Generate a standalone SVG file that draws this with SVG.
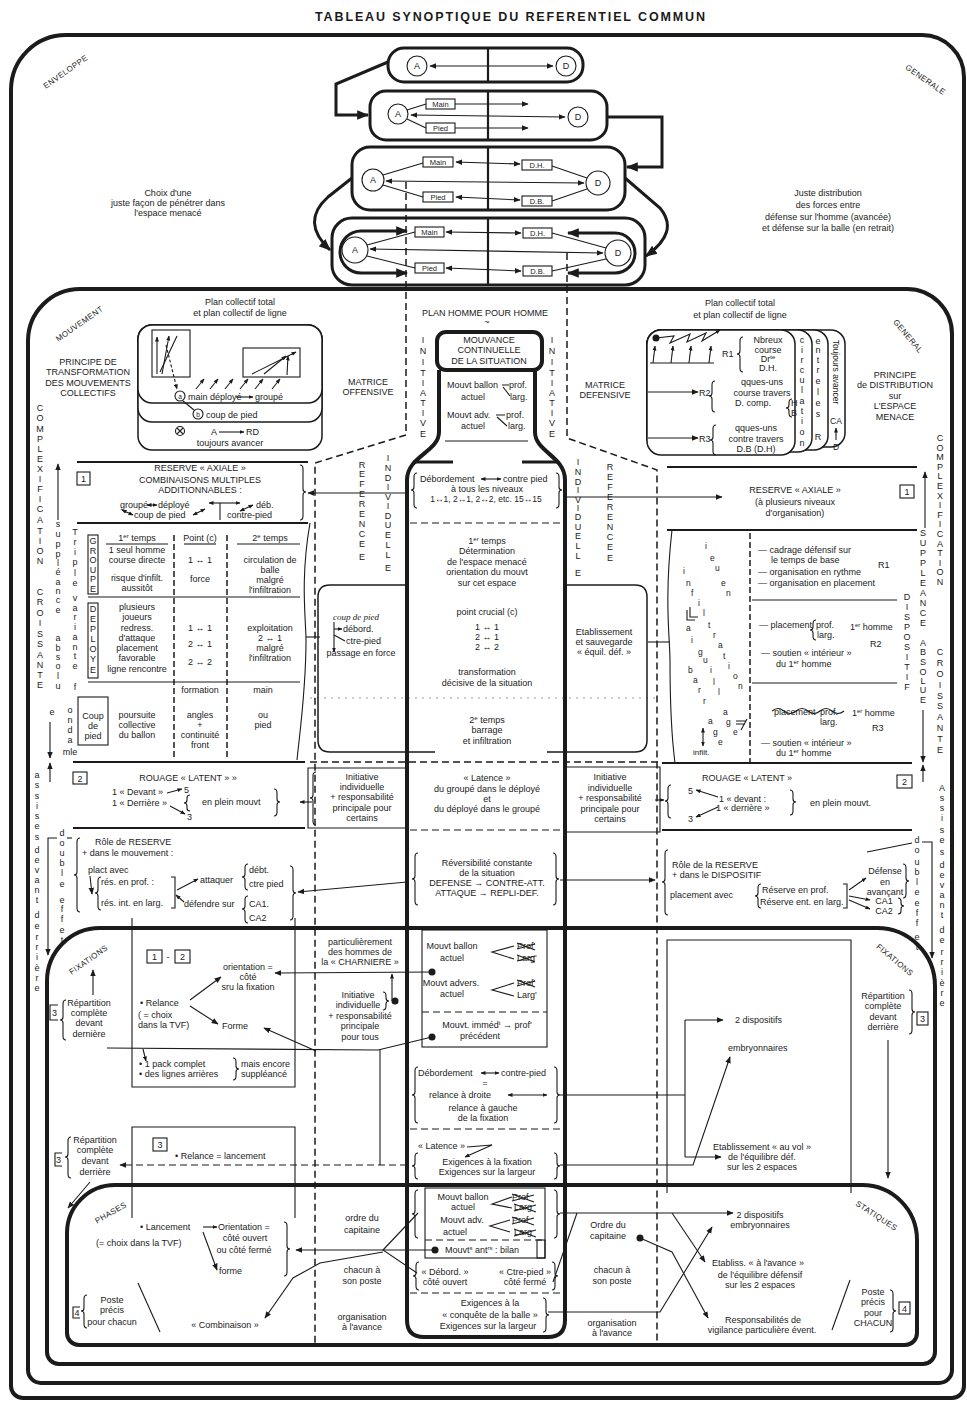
<svg xmlns="http://www.w3.org/2000/svg" width="967" height="1402" viewBox="0 0 967 1402">
<defs>
<marker id="a" markerUnits="userSpaceOnUse" markerWidth="7" markerHeight="7" viewBox="0 0 10 10" refX="9" refY="5" orient="auto-start-reverse"><path d="M0,1 L10,5 L0,9 Z" fill="#1b1b1b"/></marker>
<marker id="s" markerUnits="userSpaceOnUse" markerWidth="5" markerHeight="5" viewBox="0 0 10 10" refX="9" refY="5" orient="auto-start-reverse"><path d="M0,1 L10,5 L0,9 Z" fill="#1b1b1b"/></marker>
<marker id="A" markerUnits="userSpaceOnUse" markerWidth="12" markerHeight="12" viewBox="0 0 10 10" refX="9" refY="5" orient="auto-start-reverse"><path d="M0,1 L10,5 L0,9 Z" fill="#1b1b1b"/></marker>
</defs>
<style>
text{font-family:"Liberation Sans",Arial,Helvetica,sans-serif;font-size:9px;fill:#1b1b1b}
.c{text-anchor:middle}
.s{font-size:7.5px}
.s8{font-size:8px}
.s85{font-size:8.5px}
.tiny{font-size:6.5px}
.v{font-size:9px;text-anchor:middle}
.lab{font-size:8px;letter-spacing:.4px;text-anchor:middle}
.title{font-size:12.5px;font-weight:bold;text-anchor:start}
.hw{font-family:"Liberation Serif",serif;font-style:italic}
.fr{fill:none;stroke:#1b1b1b;stroke-width:4}
.k{fill:none;stroke:#1b1b1b;stroke-width:3}
.m{fill:none;stroke:#1b1b1b;stroke-width:2.2}
.n2{fill:none;stroke:#1b1b1b;stroke-width:1.5}
.n{fill:none;stroke:#1b1b1b;stroke-width:1.1}
.d{stroke-dasharray:7 4}
.wf{fill:#fff}
.dot{fill:#1b1b1b}
</style>
<rect width="967" height="1402" fill="#fff"/>
<text class="title" x="315" y="21" textLength="390" lengthAdjust="spacing">TABLEAU SYNOPTIQUE  DU REFERENTIEL COMMUN</text>

<g id="frames">
<path class="fr" d="M66,35 H922 A42,42 0 0 1 964,77 V1386 A12,12 0 0 1 952,1398 H23 A12,12 0 0 1 11,1386 V90 A55,55 0 0 1 66,35 Z"/>
<path class="fr" d="M80,289 H907 A45,45 0 0 1 952,334 V1370 A13,13 0 0 1 939,1383 H41 A13,13 0 0 1 28,1370 V341 A52,52 0 0 1 80,289 Z"/>
<path class="fr" d="M100,928 H877 A58,58 0 0 1 935,986 V1352 A12,12 0 0 1 923,1364 H59 A12,12 0 0 1 47,1352 V981 A53,53 0 0 1 100,928 Z"/>
<path class="fr" d="M115,1185 H862 A55,55 0 0 1 917,1240 V1333 A12,12 0 0 1 905,1345 H79 A12,12 0 0 1 67,1333 V1233 A48,48 0 0 1 115,1185 Z"/>
<text class="lab" transform="translate(67,74) rotate(-35)">ENVELOPPE</text>
<text class="lab" transform="translate(924,82) rotate(35)">GENERALE</text>
<text class="lab" transform="translate(81,326) rotate(-35)">MOUVEMENT</text>
<text class="lab" transform="translate(906,338) rotate(50)">GENERAL</text>
<text class="lab" transform="translate(90,962) rotate(-35)">FIXATIONS</text>
<text class="lab" transform="translate(893,962) rotate(40)">FIXATIONS</text>
<text class="lab" transform="translate(112,1215) rotate(-30)">PHASES</text>
<text class="lab" transform="translate(875,1218) rotate(33)">STATIQUES</text>
</g>

<g id="envelope-text">
<text class="c" x="168" y="196">Choix d'une</text>
<text class="c" x="168" y="206">juste façon de pénétrer dans</text>
<text class="c" x="168" y="216">l'espace menacé</text>
<text class="c" x="828" y="196">Juste distribution</text>
<text class="c" x="828" y="208">des forces entre</text>
<text class="c" x="828" y="220">défense sur l'homme (avancée)</text>
<text class="c" x="828" y="231">et défense sur la balle (en retrait)</text>
</g>

<g id="box1">
<rect class="k" x="388" y="48" width="195" height="34" rx="16"/>
<line class="m" x1="488" y1="48" x2="488" y2="82"/>
<circle class="n" cx="417" cy="66" r="10"/><text class="c" x="417" y="69">A</text>
<circle class="n" cx="566" cy="66" r="10"/><text class="c" x="566" y="69">D</text>
<line class="n" x1="430" y1="66" x2="553" y2="66" marker-start="url(#a)" marker-end="url(#a)"/>
</g>
<g id="box2">
<rect class="k" x="370" y="91" width="237" height="49" rx="16"/>
<line class="m" x1="488" y1="91" x2="488" y2="140"/>
<circle class="n" cx="398" cy="114" r="10"/><text class="c" x="398" y="117">A</text>
<circle class="n" cx="578" cy="117" r="10"/><text class="c" x="578" y="120">D</text>
<rect class="n" x="426" y="99" width="29" height="10"/><text class="c s" x="440.5" y="107">Main</text>
<rect class="n" x="426" y="123" width="29" height="10"/><text class="c s" x="440.5" y="131">Pied</text>
<line class="n" x1="407" y1="110" x2="426" y2="104"/><line class="n" x1="407" y1="119" x2="426" y2="128"/>
<line class="n" x1="455" y1="104" x2="528" y2="104" marker-end="url(#a)"/>
<line class="n" x1="455" y1="128" x2="528" y2="128" marker-end="url(#a)"/>
<line class="n" x1="411" y1="115" x2="565" y2="117" marker-start="url(#a)" marker-end="url(#a)"/>
</g>
<g id="box3">
<rect class="k" x="352" y="147" width="273" height="63" rx="18"/>
<line class="m" x1="488" y1="147" x2="488" y2="210"/>
<circle class="n" cx="373" cy="180" r="11"/><text class="c" x="373" y="183">A</text>
<circle class="n" cx="598" cy="183" r="12"/><text class="c" x="598" y="186">D</text>
<rect class="n" x="423" y="157" width="30" height="10"/><text class="c s" x="438" y="165">Main</text>
<rect class="n" x="522" y="160" width="30" height="10"/><text class="c s" x="537" y="168">D.H.</text>
<rect class="n" x="423" y="192" width="30" height="10"/><text class="c s" x="438" y="200">Pied</text>
<rect class="n" x="522" y="196" width="30" height="10"/><text class="c s" x="537" y="204">D.B.</text>
<line class="n" x1="383" y1="175" x2="423" y2="163"/><line class="n" x1="383" y1="185" x2="423" y2="197"/>
<line class="n" x1="587" y1="178" x2="552" y2="166"/><line class="n" x1="587" y1="189" x2="552" y2="201"/>
<line class="n" x1="456" y1="162" x2="520" y2="164" marker-start="url(#a)" marker-end="url(#a)"/>
<line class="n" x1="456" y1="197" x2="520" y2="200" marker-start="url(#a)" marker-end="url(#a)"/>
<line class="n" x1="386" y1="181" x2="584" y2="183" marker-start="url(#a)" marker-end="url(#a)"/>
</g>
<g id="box4">
<rect class="k" x="332" y="218" width="313" height="67" rx="20"/>
<line class="m" x1="488" y1="218" x2="488" y2="285"/>
<circle class="n" cx="355" cy="250" r="13"/><text class="c" x="355" y="253">A</text>
<circle class="n" cx="618" cy="253" r="13"/><text class="c" x="618" y="256">D</text>
<rect class="n" x="415" y="227" width="29" height="10"/><text class="c s" x="429.5" y="235">Main</text>
<rect class="n" x="523" y="228" width="29" height="10"/><text class="c s" x="537.5" y="236">D.H.</text>
<rect class="n" x="415" y="263" width="29" height="10"/><text class="c s" x="429.5" y="271">Pied</text>
<rect class="n" x="523" y="266" width="29" height="10"/><text class="c s" x="537.5" y="274">D.B.</text>
<line class="n" x1="367" y1="245" x2="415" y2="232"/><line class="n" x1="367" y1="256" x2="415" y2="268"/>
<line class="n" x1="606" y1="248" x2="552" y2="233"/><line class="n" x1="606" y1="259" x2="552" y2="271"/>
<line class="n" x1="446" y1="232" x2="521" y2="233" marker-start="url(#a)" marker-end="url(#a)"/>
<line class="n" x1="446" y1="268" x2="521" y2="271" marker-start="url(#a)" marker-end="url(#a)"/>
<line class="n" x1="370" y1="249" x2="603" y2="253" marker-start="url(#a)" marker-end="url(#a)"/>
<path class="k" d="M407,231 H361 A21,21 0 0 0 361,273 H407" marker-start="url(#A)" marker-end="url(#A)"/>
<path class="k" d="M568,233 H615 A20,20 0 0 1 615,273 H568" marker-start="url(#A)" marker-end="url(#A)"/>
</g>

<g id="connectors">
<path class="k" d="M388,62 L336,84 V115 H368" marker-end="url(#A)"/>
<path class="k" d="M607,117 H662 V167 H627" marker-end="url(#A)"/>
<path class="k" d="M352,178 L328,197 Q300,222 330,250" marker-end="url(#A)"/>
<path class="k" d="M625,178 L660,208 Q680,232 646,256" marker-end="url(#A)"/>
<path class="n2 d" d="M406,182 V435 L315,463 V1345"/>
<path class="n2 d" d="M567,253 V438 L657,470 V1347"/>
<line class="n2 d" x1="310" y1="762" x2="660" y2="762"/>
<line x1="310" y1="698" x2="660" y2="698" stroke="#999" stroke-width="1" stroke-dasharray="2 5"/>
<line class="n" x1="405" y1="493" x2="308" y2="493" marker-end="url(#a)"/>
<line class="n" x1="565" y1="497" x2="722" y2="497" marker-end="url(#a)"/>
<line class="n" x1="312" y1="802" x2="300" y2="802" marker-end="url(#s)"/>
<line class="n" x1="655" y1="800" x2="664" y2="800" marker-end="url(#s)"/>
<line class="n" x1="407" y1="882" x2="298" y2="892" marker-end="url(#a)"/>
<line class="n" x1="560" y1="880" x2="655" y2="880" marker-end="url(#a)"/>
<line class="n" x1="432" y1="972" x2="275" y2="973" marker-end="url(#a)"/>
<line class="n" x1="392" y1="1001" x2="392" y2="974" marker-end="url(#s)"/>
<polyline class="n" points="432,1037 378,1050 107,1048"/>
<line class="n" x1="380" y1="1050" x2="380" y2="1165"/>
<line class="n" x1="316" y1="1051" x2="264" y2="1028" marker-end="url(#a)"/>
<line class="n" x1="143" y1="1049" x2="146" y2="1061" marker-end="url(#s)"/>
<line class="n" x1="190" y1="1000" x2="221" y2="977" marker-end="url(#a)"/>
<line class="n" x1="190" y1="1006" x2="218" y2="1024" marker-end="url(#a)"/>
<line class="n d" x1="407" y1="1165" x2="120" y2="1165" marker-end="url(#a)"/>
<line class="n" x1="560" y1="1095" x2="685" y2="1095"/>
<line class="n" x1="685" y1="1020" x2="685" y2="1157"/>
<line class="n" x1="685" y1="1020" x2="723" y2="1020" marker-end="url(#a)"/>
<line class="n" x1="685" y1="1157" x2="721" y2="1157" marker-end="url(#a)"/>
<polyline class="n" points="560,1165 693,1165 730,1057" marker-end="url(#a)"/>
<line class="n" x1="888" y1="1040" x2="888" y2="1178" marker-end="url(#a)"/>
<line class="n" x1="93" y1="995" x2="93" y2="970" marker-end="url(#a)"/>
<line class="n" x1="90" y1="1182" x2="68" y2="1208" marker-end="url(#a)"/>
<line class="n" x1="435" y1="1250" x2="296" y2="1250" marker-end="url(#a)"/>
<polyline class="n" points="418,1213 383,1250 417,1273"/>
<polyline class="n" points="383,1252 320,1263 293,1278 265,1318" marker-end="url(#a)"/>
<line class="n" x1="203" y1="1227" x2="217" y2="1227" marker-end="url(#s)"/>
<line class="n" x1="203" y1="1232" x2="217" y2="1270" marker-end="url(#a)"/>
<line class="n" x1="560" y1="1213" x2="733" y2="1213" marker-end="url(#a)"/>
<line class="n" x1="577" y1="1213" x2="553" y2="1282"/>
<polyline class="n" points="548,1312 660,1312 712,1227" marker-end="url(#a)"/>
<line class="n" x1="672" y1="1213" x2="705" y2="1262" marker-end="url(#a)"/>
<polyline class="n" points="640,1238 672,1252 708,1318" marker-end="url(#a)"/>
<line class="n" x1="138" y1="1283" x2="160" y2="1332"/>
<line class="n" x1="850" y1="1280" x2="832" y2="1330"/>
<circle class="dot" cx="432" cy="972" r="3.5"/>
<circle class="dot" cx="432" cy="1037" r="3.5"/>
<circle class="dot" cx="395" cy="1001" r="3.5"/>
<circle class="dot" cx="435" cy="1250" r="3.5"/>
<circle class="dot" cx="640" cy="1238" r="3.5"/>
</g>

<g id="bottle">
<path class="fr" d="M439,370 V432 C439,452 407,456 407,480 V1320 Q407,1337 424,1337 H548 Q565,1337 565,1320 V480 C565,456 535,452 535,432 V370"/>
<rect class="fr wf" x="437" y="332" width="105" height="38" rx="9"/>
<text class="c" x="489" y="343">MOUVANCE</text>
<text class="c" x="489" y="353">CONTINUELLE</text>
<text class="c" x="489" y="364">DE LA SITUATION</text>
<text class="c" x="485" y="316">PLAN HOMME POUR HOMME</text>
<text class="c" x="487" y="325">~</text>
<text x="447" y="388">Mouvt ballon</text><text x="509" y="388">prof.</text>
<text class="c" x="473" y="400">actuel</text><text x="510" y="400">larg.</text>
<path class="n" d="M502,385 H509 M503,387 L510,396"/>
<text x="447" y="418">Mouvt adv.</text><text x="506" y="418">prof.</text>
<text class="c" x="473" y="429">actuel</text><text x="508" y="429">larg.</text>
<path class="n" d="M496,415 H505 M497,417 L507,426"/>
<line class="n" x1="445" y1="441" x2="528" y2="441"/>
<path class="k" d="M413,462 H453 M522,462 H557"/>
<path class="n" d="M417,473 Q414,473 414,477 V487 Q414,490 411,490 Q414,490 414,493 V504 Q414,508 417,508"/>
<path class="n" d="M556,473 Q559,473 559,477 V487 Q559,490 562,490 Q559,490 559,493 V504 Q559,508 556,508"/>
<text x="420" y="482">Débordement</text><line class="n" x1="481" y1="479" x2="501" y2="479" marker-start="url(#s)" marker-end="url(#s)"/><text x="503" y="482">contre pied</text>
<text class="c" x="487" y="492">à tous les niveaux</text>
<text class="c s85" x="486" y="502">1↔1, 2↔1, 2↔2, etc. 15↔15</text>
<line class="n d" x1="410" y1="523" x2="563" y2="523"/>
<text class="c" x="487" y="544">1<tspan font-size="6" dy="-3">er</tspan><tspan dy="3"> temps</tspan></text>
<text class="c" x="487" y="554">Détermination</text>
<text class="c" x="487" y="565">de l'espace menacé</text>
<text class="c" x="487" y="575">orientation du mouvt</text>
<text class="c" x="487" y="586">sur cet espace</text>
<text class="c" x="487" y="615">point crucial (c)</text>
<text class="c" x="487" y="630">1 ↔ 1</text>
<text class="c" x="487" y="640">2 ↔ 1</text>
<text class="c" x="487" y="650">2 ↔ 2</text>
<text class="c" x="487" y="675">transformation</text>
<text class="c" x="487" y="686">décisive de la situation</text>
<text class="c" x="487" y="723">2<tspan font-size="6" dy="-3">e</tspan><tspan dy="3"> temps</tspan></text>
<text class="c" x="487" y="733">barrage</text>
<text class="c" x="487" y="744">et infiltration</text>
<text class="c" x="487" y="781">« Latence »</text>
<text class="c" x="487" y="792">du groupé dans le déployé</text>
<text class="c" x="487" y="802">et</text>
<text class="c" x="487" y="812">du déployé dans le groupé</text>
<line class="n d" x1="410" y1="830" x2="565" y2="830"/>
<path class="n" d="M418,853 Q415,853 415,857 V876 Q415,879 412,879 Q415,879 415,882 V901 Q415,905 418,905"/>
<path class="n" d="M553,853 Q556,853 556,857 V876 Q556,879 559,879 Q556,879 556,882 V901 Q556,905 553,905"/>
<text class="c" x="487" y="866">Réversibilité constante</text>
<text class="c" x="487" y="876">de la situation</text>
<text class="c" x="487" y="886">DEFENSE → CONTRE-ATT.</text>
<text class="c" x="487" y="896">ATTAQUE → REPLI-DEF.</text>
<rect class="n" x="422" y="930" width="125" height="117"/>
<text class="c" x="452" y="949">Mouvt ballon</text>
<text class="c" x="452" y="961">actuel</text>
<path class="n" d="M514,946 L492,952 L514,959"/>
<text x="517" y="949">Prof'</text><text x="517" y="961">Larg'</text>
<path class="n" d="M517,943 L535,950 M517,949 L535,944 M517,955 L535,962 M517,961 L535,956"/>
<text class="c" x="451" y="986">Mouvt advers.</text>
<text class="c" x="452" y="997">actuel</text>
<path class="n" d="M514,983 L492,990 L514,996"/>
<text x="517" y="986">Prof'</text><text x="517" y="998">Larg'</text>
<path class="n" d="M517,980 L535,987 M517,986 L535,981"/>
<line class="n d" x1="422" y1="1012" x2="547" y2="1012"/>
<text class="c" x="487" y="1028">Mouvt. imméd<tspan font-size="6" dy="-3">t</tspan><tspan dy="3"> → prof'</tspan></text>
<text class="c" x="480" y="1039">précédent</text>
<path class="n" d="M418,1067 Q415,1067 415,1071 V1092 Q415,1095 412,1095 Q415,1095 415,1098 V1119 Q415,1123 418,1123"/>
<path class="n" d="M554,1067 Q557,1067 557,1071 V1092 Q557,1095 560,1095 Q557,1095 557,1098 V1119 Q557,1123 554,1123"/>
<text x="418" y="1076">Débordement</text><line class="n" x1="481" y1="1073" x2="499" y2="1073" marker-start="url(#s)" marker-end="url(#s)"/><text x="501" y="1076">contre-pied</text>
<text class="c" x="485" y="1086">=</text>
<text x="429" y="1098">relance à droite</text><line class="n" x1="508" y1="1095" x2="547" y2="1095" marker-start="url(#s)" marker-end="url(#s)"/>
<text class="c" x="483" y="1111">relance à gauche</text>
<text class="c" x="483" y="1121">de la fixation</text>
<line class="n d" x1="410" y1="1129" x2="565" y2="1129"/>
<text x="418" y="1149">« Latence »</text>
<polyline class="n" points="467,1147 492,1145 465,1157" marker-end="url(#s)"/>
<path class="n" d="M418,1153 Q415,1153 415,1157 V1163 Q415,1166 412,1166 Q415,1166 415,1169 V1175 Q415,1179 418,1179"/>
<path class="n" d="M554,1153 Q557,1153 557,1157 V1163 Q557,1166 560,1166 Q557,1166 557,1169 V1175 Q557,1179 554,1179"/>
<text class="c" x="487" y="1165">Exigences à la fixation</text>
<text class="c" x="487" y="1175">Exigences sur la largeur</text>
<rect class="n" x="425" y="1188" width="120" height="70"/>
<path class="n" d="M418,1190 Q415,1190 415,1194 V1211 Q415,1214 412,1214 Q415,1214 415,1217 V1234 Q415,1238 418,1238"/>
<path class="n" d="M554,1190 Q557,1190 557,1194 V1211 Q557,1214 560,1214 Q557,1214 557,1217 V1234 Q557,1238 554,1238"/>
<text class="c" x="463" y="1200">Mouvt ballon</text>
<text class="c" x="463" y="1210">actuel</text>
<text class="c" x="462" y="1223">Mouvt adv.</text>
<text class="c" x="455" y="1235">actuel</text>
<path class="n" d="M512,1197 L492,1204 L512,1208 M510,1220 L490,1226 L510,1232"/>
<text x="512" y="1200">Prof</text><text x="514" y="1210">Larg</text><text x="512" y="1223">Prof</text><text x="514" y="1235">Larg</text>
<path class="n" d="M512,1194 L534,1202 M512,1201 L534,1195 M514,1204 L536,1212 M514,1211 L536,1205 M512,1217 L534,1225 M512,1224 L534,1218 M514,1229 L536,1237 M514,1236 L536,1230"/>
<line class="n d" x1="425" y1="1240" x2="545" y2="1240"/>
<text x="445" y="1253">Mouvt<tspan font-size="6" dy="-3">s</tspan><tspan dy="3"> ant</tspan><tspan font-size="6" dy="-3">rs</tspan><tspan dy="3"> : bilan</tspan></text>
<rect class="n" x="537" y="1240" width="8" height="18"/>
<path class="n" d="M419,1262 Q416,1262 416,1266 V1273 Q416,1276 413,1276 Q416,1276 416,1279 V1286 Q416,1290 419,1290"/>
<path class="n" d="M552,1262 Q555,1262 555,1266 V1273 Q555,1276 558,1276 Q555,1276 555,1279 V1286 Q555,1290 552,1290"/>
<text class="c" x="445" y="1275">« Débord. »</text>
<text class="c" x="445" y="1285">côté ouvert</text>
<text class="c" x="525" y="1275">« Ctre-pied »</text>
<text class="c" x="525" y="1285">côté fermé</text>
<line class="n d" x1="410" y1="1293" x2="565" y2="1293"/>
<path class="n" d="M543,1298 Q546,1298 546,1302 V1312 Q546,1315 549,1315 Q546,1315 546,1318 V1328 Q546,1332 543,1332"/>
<text class="c" x="490" y="1306">Exigences à la</text>
<text class="c" x="490" y="1318">« conquête de la balle »</text>
<text class="c" x="488" y="1329">Exigences sur la largeur</text>
</g>

<g id="vertical-labels">
<text class="v" x="423 423 423 423 423 423 423 423 423 423" y="343 354 365 376 386 396 406 416 426 437">INITIATIVE</text>
<text class="v" x="552 552 552 552 552 552 552 552 552 552" y="343 354 365 376 386 396 406 416 426 437">INITIATIVE</text>
<text class="v" x="362 362 362 362 362 362 362 362 362 362" y="468 477 487 497 507 517 527 537 547 560">REFERENCEE</text>
<text class="v" x="388 388 388 388 388 388 388 388 388 388 388 388" y="461 471 481 490 500 509 519 528 538 548 558 571">INDIVIDUELLE</text>
<text class="v" x="578 578 578 578 578 578 578 578 578 578 578 578" y="465 475 485 493 503 511 520 530 539 549 559 576">INDIVIDUELLE</text>
<text class="v" x="610 610 610 610 610 610 610 610 610 610" y="470 480 490 500 510 520 530 540 550 561">REFERENCEE</text>
<text class="v" x="40 40 40 40 40 40 40 40 40 40 40 40 40 40 40 40" y="411 421 432 442 452 462 472 482 492 502 512 523 534 544 554 564">COMPLEXIFICATION</text>
<text class="v" x="40 40 40 40 40 40 40 40 40 40" y="595 605 616 626 637 647 658 668 678 688">CROISSANTE</text>
<text class="v" x="58 58 58 58 58 58 58 58 58 58 58 58 58 58 58 58 52" y="527 537 547 557 566 575 585 594 603 613 641 651 660 669 679 689 715">suppléanceabsolue</text>
<text class="v" x="75 75 75 75 75 75 75 75 75 75 75 75 75 75 75" y="535 545 555 565 576 586 601 611 620 630 640 650 659 669 690">Triplevariantef</text>
<text class="v" x="70 70 70 70" y="713 723 733 743">onda</text>
<text class="c" x="70" y="755">mle</text>
<text class="v" x="37 37 37 37 37 37 37 37 37 37 37 37 37 37 37 37 37 37 37 37 37" y="778 788 799 809 819 829 840 853 863 873 883 893 903 918 929 940 950 960 971 981 991">assisesdevantderrière</text>
<text class="v" x="62 62 62 62 62 62 62 62 62 62 62" y="836 846 856 866 876 887 903 912 922 933 943">doubleeffet</text>
<text class="v" x="940 940 940 940 940 940 940 940 940 940 940 940 940 940 940 940" y="441 451 460 470 479 489 499 508 518 527 537 547 556 566 575 585">COMPLEXIFICATION</text>
<text class="v" x="940 940 940 940 940 940 940 940 940 940" y="655 666 677 688 699 709 720 731 742 753">CROISSANTE</text>
<text class="v" x="923 923 923 923 923 923 923 923 923 923 923 923 923 923 923 923 923" y="536 546 556 566 576 586 596 606 616 626 646 655 665 675 684 693 703">SUPPLEANCEABSOLUE</text>
<text class="v" x="907 907 907 907 907 907 907 907 907 907" y="600 610 620 630 640 650 660 670 680 690">DISPOSITIF</text>
<text class="v" x="942 942 942 942 942 942 942 942 942 942 942 942 942 942 942 942 942 942 942 942 942" y="791 801 811 821 833 843 855 868 878 888 898 908 918 933 943 955 965 975 986 996 1006">Assisesdevantderrière</text>
<text class="v" x="917 917 917 917 917 917 917 917 917 917 917" y="843 853 865 875 885 895 906 916 926 940 950">doubleeffet</text>
<line class="n" x1="58" y1="520" x2="58" y2="464" marker-end="url(#a)"/>
<line class="n" x1="50" y1="722" x2="50" y2="758" marker-end="url(#a)"/>
<line class="n" x1="50" y1="782" x2="50" y2="763" marker-end="url(#a)"/>
<path class="n" d="M57,838 H48 V955" marker-end="url(#a)"/><line class="n" x1="67" y1="838" x2="72" y2="838"/>
<line class="n" x1="925" y1="528" x2="925" y2="472" marker-end="url(#a)"/>
<line class="n" x1="923" y1="710" x2="923" y2="762" marker-end="url(#a)"/>
<line class="n" x1="923" y1="782" x2="923" y2="765" marker-end="url(#a)"/>
<path class="n" d="M922,842 H932 V958" marker-end="url(#a)"/>
<line class="n" x1="867" y1="852" x2="912" y2="843"/>
</g>

<g id="plan-left">
<text class="c" x="240" y="305">Plan collectif total</text>
<text class="c" x="240" y="316">et plan collectif de ligne</text>
<rect class="n2 wf" x="138" y="325" width="184" height="125" rx="14"/>
<rect class="n2 wf" x="138" y="325" width="184" height="97" rx="14"/>
<rect class="n2 wf" x="138" y="325" width="184" height="78" rx="14"/>
<rect class="n" x="152" y="330" width="38" height="47"/>
<rect class="n" x="243" y="348" width="57" height="29"/>
<line class="n" x1="157" y1="374" x2="157" y2="337" marker-end="url(#s)"/>
<line class="n" x1="162" y1="374" x2="169" y2="336" marker-end="url(#s)"/>
<line class="n" x1="177" y1="336" x2="160" y2="372"/>
<line class="n" x1="166" y1="345" x2="177" y2="389" stroke-dasharray="3 2" marker-end="url(#s)"/>
<line class="n" x1="252" y1="374" x2="296" y2="352" marker-end="url(#s)"/>
<line class="n" x1="264" y1="374" x2="286" y2="356" marker-end="url(#s)"/>
<line class="n" x1="287" y1="375" x2="288" y2="356" marker-end="url(#s)"/>
<g class="n">
<line x1="196" y1="389" x2="204" y2="379" marker-end="url(#s)"/>
<line x1="210" y1="389" x2="218" y2="379" marker-end="url(#s)"/>
<line x1="225" y1="389" x2="233" y2="379" marker-end="url(#s)"/>
<line x1="240" y1="389" x2="248" y2="379" marker-end="url(#s)"/>
<line x1="255" y1="389" x2="263" y2="379" marker-end="url(#s)"/>
<line x1="272" y1="389" x2="280" y2="379" marker-end="url(#s)"/>
</g>
<circle class="n" cx="180" cy="396" r="5"/><text class="c tiny" x="180" y="398.5">a</text>
<text x="188" y="400">main déployé</text>
<line class="n" x1="236" y1="397" x2="253" y2="397" marker-end="url(#s)"/>
<text x="255" y="400">groupé</text>
<line class="n" x1="183" y1="401" x2="194" y2="410"/>
<circle class="n" cx="198" cy="414" r="5"/><text class="c tiny" x="198" y="416.5">b</text>
<text x="206" y="418">coup de pied</text>
<circle class="n" cx="180" cy="431" r="4.5"/><path class="n" d="M177,428 L183,434 M183,428 L177,434"/>
<text x="211" y="435">A</text>
<line class="n" x1="219" y1="432" x2="244" y2="432" marker-end="url(#s)"/>
<text x="246" y="435">RD</text>
<text class="c" x="230" y="446">toujours avancer</text>
</g>

<g id="plan-right">
<text class="c" x="740" y="306">Plan collectif total</text>
<text class="c" x="740" y="318">et plan collectif de ligne</text>
<rect class="n2 wf" x="647" y="330" width="198" height="117" rx="14"/>
<rect class="n2 wf" x="647" y="330" width="181" height="120" rx="14"/>
<rect class="n2 wf" x="647" y="330" width="165" height="122" rx="14"/>
<rect class="n2 wf" x="647" y="330" width="148" height="125" rx="14"/>
<circle class="dot" cx="656" cy="338" r="3.5"/>
<polyline class="n" points="656,338 674,336 670,343 690,334 687,342 706,333 702,341 720,330" marker-end="url(#s)"/>
<line class="n" x1="650" y1="363" x2="714" y2="363"/>
<line class="n" x1="653" y1="363" x2="655" y2="346" marker-end="url(#s)"/>
<line class="n" x1="671" y1="363" x2="673" y2="346" marker-end="url(#s)"/>
<line class="n" x1="689" y1="363" x2="691" y2="346" marker-end="url(#s)"/>
<line class="n" x1="709" y1="363" x2="711" y2="346" marker-end="url(#s)"/>
<text x="722" y="357">R1</text>
<path class="n" d="M743,337 Q740,337 740,341 V351 Q740,354 737,354 Q740,354 740,357 V368 Q740,372 743,372"/>
<text class="c" x="768" y="343">Nbreux</text>
<text class="c" x="768" y="353">course</text>
<text class="c" x="768" y="362">Dr<tspan font-size="6" dy="-3">te</tspan></text>
<text class="c" x="768" y="371">D.H.</text>
<line class="n" x1="648" y1="392" x2="698" y2="392" marker-end="url(#a)"/>
<text x="699" y="396">R2</text>
<path class="n" d="M715,381 Q712,381 712,385 V393 Q712,396 709,396 Q712,396 712,399 V408 Q712,412 715,412"/>
<text class="c" x="762" y="385">qques-uns</text>
<text class="c" x="762" y="396">course travers</text>
<text x="735" y="406">D. comp.</text>
<path class="n" d="M792,399 Q789,399 789,403 V405 Q789,408 786,408 Q789,408 789,411 V413 Q789,417 792,417"/>
<text x="791" y="406">H</text><text x="791" y="416">B</text>
<line class="n" x1="648" y1="438" x2="698" y2="438" marker-end="url(#a)"/>
<text x="699" y="442">R3</text>
<path class="n" d="M716,425 Q713,425 713,429 V437 Q713,440 710,440 Q713,440 713,443 V451 Q713,455 716,455"/>
<text class="c" x="756" y="431">qques-uns</text>
<text class="c" x="756" y="442">contre travers</text>
<text class="c" x="756" y="452">D.B (D.H)</text>
<text class="v s85" x="802 802 802 802 802 802 802 802 802 802 802" y="343 353 363 373 383 393 404 414 424 435 446">circulation</text>
<text class="v s85" x="818 818 818 818 818 818 818 818 818" y="344 353 363 373 384 395 406 417 440">entrelesR</text>
<text class="c s85" transform="translate(833,372) rotate(90)">Toujours avancer</text>
<text class="c s85" x="836" y="424">CA</text>
<line class="n" x1="836" y1="440" x2="836" y2="428" marker-end="url(#s)"/>
<text class="c s85" x="836" y="450">D</text>
</g>

<g id="matrices">
<text class="c" x="88" y="365">PRINCIPE DE</text>
<text class="c" x="88" y="375">TRANSFORMATION</text>
<text class="c" x="88" y="386">DES MOUVEMENTS</text>
<text class="c" x="88" y="396">COLLECTIFS</text>
<text class="c" x="895" y="378">PRINCIPE</text>
<text class="c" x="895" y="388">de DISTRIBUTION</text>
<text class="c" x="895" y="399">sur</text>
<text class="c" x="895" y="409">L'ESPACE</text>
<text class="c" x="895" y="420">MENACE</text>
<text class="c" x="368" y="385">MATRICE</text>
<text class="c" x="368" y="395">OFFENSIVE</text>
<text class="c" x="605" y="388">MATRICE</text>
<text class="c" x="605" y="398">DEFENSIVE</text>
</g>

<g id="left-section1">
<line class="m" x1="77" y1="462" x2="308" y2="462"/>
<line class="m" x1="77" y1="523" x2="308" y2="523"/>
<rect class="n" x="77" y="472" width="13" height="13"/><text class="c" x="83.5" y="482">1</text>
<text class="c" x="200" y="471">RESERVE « AXIALE »</text>
<text class="c" x="200" y="483">COMBINAISONS MULTIPLES</text>
<text class="c" x="200" y="493">ADDITIONNABLES :</text>
<text x="120" y="508">groupé</text><line class="n" x1="147" y1="505" x2="157" y2="505" marker-start="url(#s)" marker-end="url(#s)"/>
<text x="158" y="508">déployé</text>
<line class="n" x1="209" y1="503" x2="240" y2="503" marker-start="url(#s)" marker-end="url(#s)"/>
<line class="n" x1="220" y1="503" x2="220" y2="520"/>
<line class="n" x1="240" y1="511" x2="253" y2="505" marker-start="url(#s)" marker-end="url(#s)"/>
<text x="256" y="508">déb.</text>
<line class="n" x1="122" y1="510" x2="133" y2="515" marker-start="url(#s)" marker-end="url(#s)"/>
<text x="134" y="518">coup de pied</text>
<line class="n" x1="193" y1="515" x2="205" y2="509" marker-start="url(#s)" marker-end="url(#s)"/>
<text x="227" y="518">contre-pied</text>
<path class="n" d="M300,465 Q303,465 303,469 V489 Q303,492 306,492 Q303,492 303,495 V516 Q303,520 300,520"/>
</g>

<g id="left-table">
<line class="n2" x1="174" y1="535" x2="174" y2="757" stroke-dasharray="6 3"/>
<line class="n2" x1="227" y1="535" x2="227" y2="757" stroke-dasharray="6 3"/>
<text class="c" x="137" y="541">1<tspan font-size="6" dy="-3">er</tspan><tspan dy="3"> temps</tspan></text>
<line class="n" x1="106" y1="544" x2="168" y2="544"/>
<text class="c" x="200" y="541">Point (c)</text>
<line class="n" x1="184" y1="544" x2="216" y2="544"/>
<text class="c" x="270" y="541">2<tspan font-size="6" dy="-3">e</tspan><tspan dy="3"> temps</tspan></text>
<line class="n" x1="237" y1="544" x2="300" y2="544"/>
<rect class="n" x="88" y="535" width="10" height="59"/>
<text class="v s8" x="93 93 93 93 93 93" y="544 554 563 573 582 592">GROUPE</text>
<text class="c" x="137" y="553">1 seul homme</text>
<text class="c" x="137" y="563">course directe</text>
<text class="c" x="137" y="581">risque d'infilt.</text>
<text class="c" x="137" y="591">aussitôt</text>
<text class="c" x="200" y="563">1 ↔ 1</text>
<text class="c" x="200" y="582">force</text>
<text class="c" x="270" y="563">circulation de</text>
<text class="c" x="270" y="573">balle</text>
<text class="c" x="270" y="583">malgré</text>
<text class="c" x="270" y="593">l'infiltration</text>
<line class="n" x1="88" y1="597" x2="300" y2="597"/>
<rect class="n" x="88" y="603" width="10" height="75"/>
<text class="v s8" x="93 93 93 93 93 93 93" y="612 622 632 642 652 662 673">DEPLOYE</text>
<text class="c" x="137" y="610">plusieurs</text>
<text class="c" x="137" y="620">joueurs</text>
<text class="c" x="137" y="631">redress.</text>
<text class="c" x="137" y="641">d'attaque</text>
<text class="c" x="137" y="651">placement</text>
<text class="c" x="137" y="661">favorable</text>
<text class="c" x="137" y="672">ligne rencontre</text>
<text class="c" x="200" y="631">1 ↔ 1</text>
<text class="c" x="200" y="647">2 ↔ 1</text>
<text class="c" x="200" y="665">2 ↔ 2</text>
<text class="c" x="270" y="631">exploitation</text>
<text class="c" x="270" y="641">2 ↔ 1</text>
<text class="c" x="270" y="651">malgré</text>
<text class="c" x="270" y="661">l'infiltration</text>
<line class="n" x1="88" y1="682" x2="300" y2="682"/>
<text class="c" x="200" y="693">formation</text>
<text class="c" x="263" y="693">main</text>
<rect class="n" x="78" y="697" width="30" height="48"/>
<text class="c" x="93" y="719">Coup</text>
<text class="c" x="93" y="729">de</text>
<text class="c" x="93" y="739">pied</text>
<text class="c" x="137" y="718">poursuite</text>
<text class="c" x="137" y="728">collective</text>
<text class="c" x="137" y="738">du ballon</text>
<text class="c" x="200" y="718">angles</text>
<text class="c" x="200" y="728">+</text>
<text class="c" x="200" y="738">continuité</text>
<text class="c" x="200" y="748">front</text>
<text class="c" x="263" y="718">ou</text>
<text class="c" x="263" y="728">pied</text>
<path class="n" d="M310,523 C300,580 306,620 306,640 C306,690 300,730 297,760"/>
<line class="n" x1="306" y1="637" x2="320" y2="637"/>
</g>

<g id="left-rounded">
<path class="n2" d="M407,585 H330 Q318,585 318,597 V740 Q318,752 330,752 H435"/>
<text class="hw" x="333" y="620">coup de pied</text>
<path class="n" d="M334,622 V652" marker-end="url(#s)"/>
<line class="n" x1="334" y1="629" x2="342" y2="629" marker-end="url(#s)"/>
<line class="n" x1="334" y1="635" x2="345" y2="641"/>
<text x="343" y="632">débord.</text>
<text x="346" y="644">ctre-pied</text>
<text class="c" x="361" y="656">passage en force</text>
</g>
<g id="right-rounded">
<path class="n2" d="M565,585 H635 Q647,585 647,597 V740 Q647,752 635,752 H547"/>
<text class="c" x="604" y="635">Etablissement</text>
<text class="c" x="604" y="645">et sauvegarde</text>
<text class="c" x="604" y="655">« équil. déf. »</text>
</g>

<g id="right-section1">
<line class="m" x1="667" y1="467" x2="917" y2="467"/>
<line class="m" x1="667" y1="530" x2="917" y2="530"/>
<text class="c" x="795" y="493">RESERVE « AXIALE »</text>
<text class="c" x="795" y="505">(à plusieurs niveaux</text>
<text class="c" x="795" y="516">d'organisation)</text>
<rect class="n" x="900" y="485" width="14" height="13"/><text class="c" x="907" y="495">1</text>
</g>

<g id="right-table">
<line class="n2" x1="750" y1="533" x2="750" y2="763" stroke-dasharray="6 3"/>
<path class="n" d="M672,530 C664,600 670,640 670,660 C670,700 672,740 675,763"/>
<line class="n" x1="648" y1="642" x2="670" y2="642"/>
<g>
<text class="s85" x="705" y="549">i</text><text class="s85" x="710" y="561">e</text><text class="s85" x="715" y="571">u</text>
<text class="s85" x="683" y="574">i</text><text class="s85" x="686" y="586">n</text><text class="s85" x="721" y="586">e</text>
<text class="s85" x="691" y="596">f</text><text class="s85" x="726" y="596">n</text><text class="s85" x="698" y="606">i</text>
<text class="s85" x="703" y="616">l</text><text class="s85" x="708" y="628">t</text><text class="s85" x="713" y="638">r</text>
<text class="s85" x="718" y="648">a</text><text class="s85" x="723" y="659">t</text><text class="s85" x="728" y="669">i</text>
<text class="s85" x="733" y="679">o</text><text class="s85" x="738" y="689">n</text>
<text class="s85" x="686" y="631">a</text><text class="s85" x="691" y="643">i</text><text class="s85" x="698" y="655">g</text>
<text class="s85" x="703" y="663">u</text><text class="s85" x="710" y="673">i</text><text class="s85" x="713" y="685">l</text>
<text class="s85" x="718" y="695">l</text><text class="s85" x="688" y="673">b</text><text class="s85" x="693" y="683">a</text>
<text class="s85" x="698" y="693">r</text><text class="s85" x="703" y="704">r</text>
<text class="s85" x="723" y="715">a</text><text class="s85" x="708" y="724">a</text><text class="s85" x="726" y="725">g</text>
<text class="s85" x="713" y="735">g</text><text class="s85" x="733" y="735">e</text><text class="s85" x="718" y="745">e</text>
</g>
<path class="n" d="M687,610 V620 H695 M690,607 V617 H698"/>
<path class="n" d="M736,721 H746 M736,724 H745 M747,719 L741,730"/>
<line class="n" x1="703" y1="728" x2="703" y2="746" marker-start="url(#s)" marker-end="url(#s)"/>
<text class="s8" x="693" y="755">infilt.</text>
<text x="758" y="553">— cadrage défensif sur</text>
<text x="771" y="563">le temps de base</text>
<text x="878" y="568">R1</text>
<text x="758" y="575">— organisation en rythme</text>
<text x="758" y="586">— organisation en placement</text>
<line class="n" x1="752" y1="600" x2="897" y2="600"/>
<text x="759" y="628">— placement</text>
<path class="n" d="M816,620 Q813,620 813,624 V627 Q813,630 810,630 Q813,630 813,633 V636 Q813,640 816,640"/>
<text x="816" y="628">prof.</text><text x="817" y="638">larg.</text>
<text x="850" y="630">1<tspan font-size="6" dy="-3">er</tspan><tspan dy="3"> homme</tspan></text>
<text x="870" y="647">R2</text>
<text x="761" y="656">— soutien « intérieur »</text>
<text x="776" y="667">du 1<tspan font-size="6" dy="-3">er</tspan><tspan dy="3"> homme</tspan></text>
<line class="n" x1="752" y1="683" x2="897" y2="683"/>
<text x="774" y="715">placement</text><text x="820" y="715">prof.</text>
<path class="n" d="M772,711 q6,-5 12,0 t12,0 t12,0 t12,0 t12,0 t12,0" stroke-width="0.8"/>
<text x="852" y="716">1<tspan font-size="6" dy="-3">er</tspan><tspan dy="3"> homme</tspan></text>
<text x="820" y="725">larg.</text>
<text x="872" y="731">R3</text>
<text x="761" y="746">— soutien « intérieur »</text>
<text x="776" y="756">du 1<tspan font-size="6" dy="-3">er</tspan><tspan dy="3"> homme</tspan></text>
</g>

<g id="left-section2">
<line class="m" x1="73" y1="762" x2="305" y2="762"/>
<line class="m" x1="73" y1="828" x2="305" y2="828"/>
<rect class="n" x="73" y="772" width="14" height="12"/><text class="c" x="80" y="781.5">2</text>
<text class="c" x="188" y="781">ROUAGE « LATENT » »</text>
<text x="112" y="795">1 « Devant »</text>
<text x="112" y="806">1 « Derrière »</text>
<line class="n" x1="167" y1="793" x2="182" y2="789" marker-end="url(#s)"/>
<line class="n" x1="170" y1="806" x2="185" y2="814" marker-end="url(#s)"/>
<text x="184" y="793">5</text><text x="187" y="820">3</text>
<path class="n" d="M190,795 Q187,795 187,798 V800 Q187,803 184,803 Q187,803 187,806 V808 Q187,811 190,811"/>
<text x="202" y="805">en plein mouvt</text>
<path class="n" d="M274,789 Q277,789 277,793 V799 Q277,802 280,802 Q277,802 277,805 V812 Q277,816 274,816"/>
</g>
<g id="center-section2">
<path class="n" d="M405,768 H308 V828 H405"/>
<path class="n" d="M316,772 Q313,772 313,776 V795 Q313,798 310,798 Q313,798 313,801 V821 Q313,825 316,825"/>
<text class="c" x="362" y="780">Initiative</text>
<text class="c" x="362" y="790">individuelle</text>
<text class="c" x="362" y="800">+ responsabilité</text>
<text class="c" x="362" y="811">principale pour</text>
<text class="c" x="362" y="821">certains</text>
<path class="n" d="M565,767 H660 V832 H565"/>
<text class="c" x="610" y="780">Initiative</text>
<text class="c" x="610" y="791">individuelle</text>
<text class="c" x="610" y="801">+ responsabilité</text>
<text class="c" x="610" y="812">principale pour</text>
<text class="c" x="610" y="822">certains</text>
</g>
<g id="right-section2">
<line class="m" x1="662" y1="763" x2="912" y2="763"/>
<line class="m" x1="662" y1="830" x2="912" y2="830"/>
<path class="n" d="M671,785 Q668,785 668,789 V798 Q668,801 665,801 Q668,801 668,804 V814 Q668,818 671,818"/>
<text class="c" x="747" y="781">ROUAGE « LATENT »</text>
<rect class="n" x="897" y="775" width="15" height="13"/><text class="c" x="904.5" y="785">2</text>
<text x="688" y="794">5</text><text x="688" y="822">3</text>
<line class="n" x1="718" y1="797" x2="696" y2="790" marker-end="url(#s)"/>
<line class="n" x1="718" y1="807" x2="696" y2="817" marker-end="url(#s)"/>
<text x="719" y="802">1 « devant :</text>
<text x="716" y="811">1 « derrière »</text>
<path class="n" d="M790,790 Q793,790 793,794 V799 Q793,802 796,802 Q793,802 793,805 V811 Q793,815 790,815"/>
<text x="810" y="806">en plein mouvt.</text>
</g>

<g id="left-section3">
<path class="n" d="M80,838 Q77,838 77,842 V872 Q77,875 74,875 Q77,875 77,878 V908 Q77,912 80,912"/>
<text x="95" y="845">Rôle de RESERVE</text>
<text x="82" y="856">+  dans le mouvement :</text>
<text x="88" y="873">plact avec</text>
<line class="n" x1="90" y1="876" x2="92" y2="894" marker-end="url(#a)"/>
<path class="n" d="M101,877 Q98,877 98,881 V890 Q98,893 95,893 Q98,893 98,896 V906 Q98,910 101,910"/>
<text x="101" y="885">rés. en prof. :</text>
<text x="101" y="906">rés. int. en larg.</text>
<path class="n" d="M171,877 H175 V908 H171"/>
<line class="n" x1="177" y1="890" x2="198" y2="879" marker-end="url(#s)"/>
<text x="200" y="883">attaquer</text>
<line class="n" x1="184" y1="902" x2="176" y2="895" marker-end="url(#s)"/>
<text x="184" y="907">défendre sur</text>
<path class="n" d="M248,864 Q245,864 245,868 V874 Q245,877 242,877 Q245,877 245,880 V886 Q245,890 248,890"/>
<text x="249" y="873">débt.</text>
<text x="249" y="887">ctre pied</text>
<path class="n" d="M248,896 Q245,896 245,900 V906 Q245,909 242,909 Q245,909 245,912 V919 Q245,923 248,923"/>
<text x="249" y="907">CA1.</text>
<text x="249" y="921">CA2</text>
<path class="n" d="M290,866 Q293,866 293,870 V890 Q293,893 296,893 Q293,893 293,896 V916 Q293,920 290,920"/>
</g>
<g id="right-section3">
<path class="n" d="M668,850 Q665,850 665,854 V879 Q665,882 662,882 Q665,882 665,885 V911 Q665,915 668,915"/>
<text x="672" y="868">Rôle de la RESERVE</text>
<text x="672" y="878">+  dans le DISPOSITIF</text>
<text x="670" y="898">placement avec</text>
<path class="n" d="M761,884 Q758,884 758,888 V893 Q758,896 755,896 Q758,896 758,899 V904 Q758,908 761,908"/>
<text x="762" y="893">Réserve en prof.</text>
<text x="760" y="905">Réserve ent. en larg.</text>
<path class="n" d="M843,884 H847 V908 H843"/>
<line class="n" x1="849" y1="890" x2="866" y2="878" marker-end="url(#s)"/>
<line class="n" x1="849" y1="896" x2="870" y2="900" marker-end="url(#s)"/>
<line class="n" x1="849" y1="900" x2="870" y2="909" marker-end="url(#s)"/>
<text class="c" x="885" y="874">Défense</text>
<text class="c" x="885" y="885">en</text>
<text class="c" x="885" y="895">avançant</text>
<text class="c" x="884" y="904">CA1</text>
<text class="c" x="884" y="914">CA2</text>
<path class="n" d="M903,864 Q906,864 906,868 V878 Q906,881 909,881 Q906,881 906,884 V894 Q906,898 903,898"/>
<path class="n" d="M898,898 Q901,898 901,901 V903 Q901,906 904,906 Q901,906 901,909 V911 Q901,914 898,914"/>
</g>

<g id="fixations-left">
<path class="n" d="M132,918 V1087 H295 V918"/>
<rect class="n" x="147" y="950" width="15" height="13"/><text class="c" x="154.5" y="960">1</text>
<text class="c" x="168" y="960">-</text>
<rect class="n" x="175" y="950" width="15" height="13"/><text class="c" x="182.5" y="960">2</text>
<text class="c" x="248" y="970">orientation  =</text>
<text class="c" x="248" y="980">côté</text>
<text class="c" x="248" y="990">sru la fixation</text>
<text x="140" y="1006">• Relance</text>
<text x="138" y="1018">( = choix</text>
<text x="138" y="1028">dans la TVF)</text>
<text x="222" y="1029">Forme</text>
<text x="139" y="1067">• 1 pack complet</text>
<text x="139" y="1077">• des lignes arrières</text>
<path class="n" d="M233,1058 Q236,1058 236,1062 V1066 Q236,1069 239,1069 Q236,1069 236,1072 V1076 Q236,1080 233,1080"/>
<text x="241" y="1067">mais encore</text>
<text x="241" y="1077">suppléancé</text>
<text class="c" x="360" y="945">particulièrement</text>
<text class="c" x="360" y="955">des hommes de</text>
<text class="c" x="360" y="965">la « CHARNIERE »</text>
<text class="c" x="358" y="998">Initiative</text>
<text class="c" x="358" y="1008">individuelle</text>
<text class="c" x="360" y="1019">+ responsabilité</text>
<text class="c" x="360" y="1029">principale</text>
<text class="c" x="360" y="1040">pour tous</text>
<path class="n" d="M383,992 Q386,992 386,996 V998 Q386,1001 389,1001 Q386,1001 386,1004 V1006 Q386,1010 383,1010"/>
<path class="n" d="M58,1005 H50 V1020 H58"/><text class="c" x="54.5" y="1016">3</text>
<path class="n" d="M66,1000 Q63,1000 63,1004 V1017 Q63,1020 60,1020 Q63,1020 63,1023 V1036 Q63,1040 66,1040"/>
<text class="c" x="89" y="1006">Répartition</text>
<text class="c" x="89" y="1016">complète</text>
<text class="c" x="89" y="1026">devant</text>
<text class="c" x="89" y="1037">dernière</text>
<path class="n" d="M132,1218 V1127 H295 V1218"/>
<rect class="n" x="153" y="1138" width="14" height="13"/><text class="c" x="160" y="1148">3</text>
<text x="175" y="1159">• Relance  =  lancement</text>
<path class="n" d="M62,1153 H55 V1166 H62"/><text class="c" x="58.5" y="1163">3</text>
<path class="n" d="M71,1137 Q68,1137 68,1141 V1154 Q68,1157 65,1157 Q68,1157 68,1160 V1174 Q68,1178 71,1178"/>
<text class="c" x="95" y="1143">Répartition</text>
<text class="c" x="95" y="1153">complète</text>
<text class="c" x="95" y="1164">devant</text>
<text class="c" x="95" y="1175">derrière</text>
</g>

<g id="fixations-right">
<text class="c" x="883" y="999">Répartition</text>
<text class="c" x="883" y="1009">complète</text>
<text class="c" x="883" y="1020">devant</text>
<text class="c" x="883" y="1030">derrière</text>
<path class="n" d="M909,990 Q912,990 912,994 V1009 Q912,1012 915,1012 Q912,1012 912,1015 V1030 Q912,1034 909,1034"/>
<rect class="n" x="917" y="1012" width="11" height="13"/><text class="c" x="922.5" y="1022">3</text>
<path class="n" d="M667,1193 V940 H851 V1193"/>
<text x="735" y="1023">2 dispositifs</text>
<text x="728" y="1051">embryonnaires</text>
<text class="c" x="762" y="1150">Etablissement « au vol »</text>
<text class="c" x="762" y="1160">de l'équilibre déf.</text>
<text class="c" x="762" y="1170">sur les 2 espaces</text>
</g>

<g id="phases">
<text x="140" y="1230">• Lancement</text>
<text x="218" y="1230">Orientation  =</text>
<text class="c" x="245" y="1241">côté ouvert</text>
<text class="c" x="244" y="1253">ou côté fermé</text>
<text x="96" y="1246">(= choix dans la TVF)</text>
<text x="219" y="1274">forme</text>
<path class="n" d="M284,1222 Q287,1222 287,1226 V1246 Q287,1249 290,1249 Q287,1249 287,1252 V1272 Q287,1276 284,1276"/>
<text class="c" x="362" y="1221">ordre du</text>
<text class="c" x="362" y="1233">capitaine</text>
<text class="c" x="362" y="1273">chacun à</text>
<text class="c" x="362" y="1284">son poste</text>
<text class="c" x="362" y="1320">organisation</text>
<text class="c" x="362" y="1330">à l'avance</text>
<text class="c" x="225" y="1328">« Combinaison »</text>
<path class="n" d="M80,1307 H73 V1318 H80"/><text class="c" x="77" y="1316">4</text>
<path class="n" d="M87,1295 Q84,1295 84,1299 V1308 Q84,1311 81,1311 Q84,1311 84,1314 V1324 Q84,1328 87,1328"/>
<text class="c" x="112" y="1303">Poste</text>
<text class="c" x="112" y="1313">précis</text>
<text class="c" x="112" y="1325">pour chacun</text>
<text class="c" x="608" y="1228">Ordre du</text>
<text class="c" x="608" y="1239">capitaine</text>
<text class="c" x="612" y="1273">chacun à</text>
<text class="c" x="612" y="1284">son poste</text>
<text class="c" x="612" y="1326">organisation</text>
<text class="c" x="612" y="1336">à l'avance</text>
<text class="c" x="760" y="1218">2 dispositifs</text>
<text class="c" x="760" y="1228">embryonnaires</text>
<text class="c" x="758" y="1266">Etabliss. « à l'avance »</text>
<text class="c" x="760" y="1278">de l'équilibre défensif</text>
<text class="c" x="760" y="1288">sur les 2 espaces</text>
<text class="c" x="763" y="1323">Responsabilités de</text>
<text class="c" x="762" y="1333">vigilance particulière évent.</text>
<text class="c" x="873" y="1295">Poste</text>
<text class="c" x="873" y="1305">précis</text>
<text class="c" x="873" y="1316">pour</text>
<text class="c" x="873" y="1326">CHACUN</text>
<path class="n" d="M890,1290 Q893,1290 893,1294 V1308 Q893,1311 896,1311 Q893,1311 893,1314 V1328 Q893,1332 890,1332"/>
<rect class="n" x="899" y="1302" width="11" height="12"/><text class="c" x="904.5" y="1311.5">4</text>
</g>
</svg>
